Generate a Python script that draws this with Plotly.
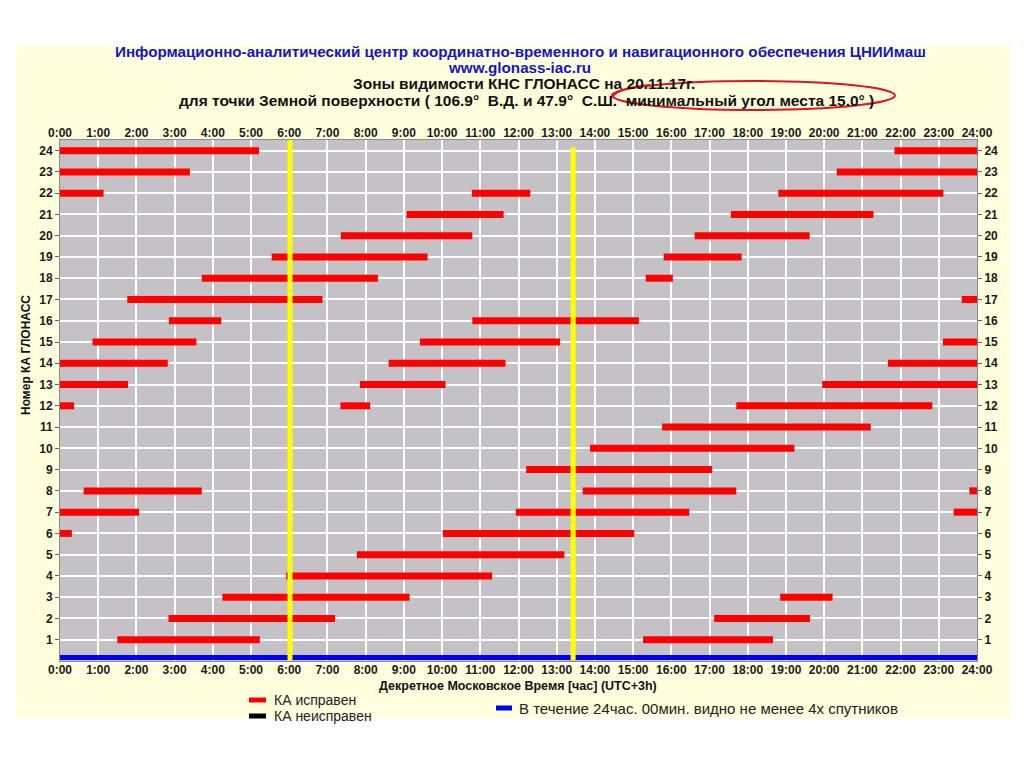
import plotly.graph_objects as go

# ---------------- data ----------------
HOURS = [0, 1, 2, 3, 4, 5, 6, 7, 8, 9, 10, 11, 12, 13, 14, 15, 16, 17, 18, 19, 20, 21, 22, 23, 24]
HOUR_LABELS = ["0:00", "1:00", "2:00", "3:00", "4:00", "5:00", "6:00", "7:00", "8:00", "9:00",
               "10:00", "11:00", "12:00", "13:00", "14:00", "15:00", "16:00", "17:00", "18:00",
               "19:00", "20:00", "21:00", "22:00", "23:00", "24:00"]
SAT_TICKS = [1, 2, 3, 4, 5, 6, 7, 8, 9, 10, 11, 12, 13, 14, 15, 16, 17, 18, 19, 20, 21, 22, 23, 24]
SAT_LABELS = ["1", "2", "3", "4", "5", "6", "7", "8", "9", "10", "11", "12", "13", "14", "15",
              "16", "17", "18", "19", "20", "21", "22", "23", "24"]

# visibility intervals (hours), parallel lists
SAT = [24, 24, 23, 23, 22, 22, 22, 21, 21, 20, 20, 19, 19, 18, 18, 17, 17, 16, 16,
       15, 15, 15, 14, 14, 14, 13, 13, 13, 12, 12, 12, 11, 10, 9, 8, 8, 8, 7, 7, 7,
       6, 6, 5, 4, 3, 3, 2, 2, 1, 1]
START = [0.00, 21.84, 0.00, 20.33, 0.00, 10.78, 18.80, 9.07, 17.56, 7.35, 16.61, 5.54, 15.80,
         3.71, 15.33, 1.76, 23.60, 2.85, 10.79, 0.85, 9.42, 23.11, 0.00, 8.60, 21.67,
         0.00, 7.85, 19.95, 0.00, 7.34, 17.70, 15.76, 13.87, 12.20, 0.62, 13.68, 23.80,
         0.00, 11.93, 23.39, 0.00, 10.02, 7.77, 5.92, 4.25, 18.85, 2.84, 17.12, 1.50, 15.26]
END = [5.21, 24.00, 3.40, 24.00, 1.14, 12.31, 23.12, 11.61, 21.29, 10.79, 19.62, 9.62, 17.84,
       8.32, 16.04, 6.87, 24.00, 4.22, 15.15, 3.57, 13.09, 24.00, 2.82, 11.66, 24.00,
       1.78, 10.09, 24.00, 0.37, 8.12, 22.83, 21.22, 19.22, 17.07, 3.71, 17.70, 24.00,
       2.07, 16.47, 24.00, 0.31, 15.03, 13.20, 11.31, 9.15, 20.22, 7.20, 19.63, 5.23, 18.66]

MARK_TIMES = [6.02, 13.43]      # yellow markers
MARK_TOPS = [24.5, 24.15]
COVERAGE_START, COVERAGE_END = 0, 24   # >=4 satellites visible (blue)

TITLE_1 = "Информационно-аналитический центр координатно-временного и навигационного обеспечения ЦНИИмаш"
TITLE_2 = "www.glonass-iac.ru"
TITLE_3 = "Зоны видимости КНС ГЛОНАСС на 20.11.17г."
TITLE_4 = ("для точки Земной поверхности ( 106.9°\u00a0\u00a0В.Д. и 47.9°\u00a0\u00a0С.Ш.\u00a0\u00a0"
           "минимальный угол места 15.0° )")
X_TITLE = "Декретное Московское Время [час] (UTC+3h)"
Y_TITLE = "Номер КА ГЛОНАСС"
LEG_OK = "КА исправен"
LEG_BAD = "КА неисправен"
LEG_COV = "В течение 24час. 00мин. видно не менее 4х спутников"

# ---------------- layout geometry (window pixels) ----------------
OFF = 8                      # page body margin
W, H = 1024 - OFF, 767 - OFF
PL, PR, PT, PB = 60, 977, 140, 661


def px(x):
    return (x - PL) / (PR - PL)


def py(y):
    return (PB - y) / (PB - PT)


FONT = "Liberation Sans, Arial, sans-serif"

fig = go.Figure()

# red visibility bars
xs, ys = [], []
for s, a, b in zip(SAT, START, END):
    xs += [a, b, None]
    ys += [s, s, None]
fig.add_trace(go.Scatter(x=xs, y=ys, mode="lines", line=dict(color="#FF0000", width=7),
                         hoverinfo="skip", showlegend=False))

# blue coverage line
fig.add_trace(go.Scatter(x=[COVERAGE_START, COVERAGE_END], y=[0.17, 0.17], mode="lines",
                         line=dict(color="#0000FF", width=5), hoverinfo="skip", showlegend=False))

# yellow markers
for t, top in zip(MARK_TIMES, MARK_TOPS):
    fig.add_trace(go.Scatter(x=[t, t], y=[0.05, top], mode="lines",
                             line=dict(color="#FFFF00", width=5), hoverinfo="skip", showlegend=False))

# dummy trace for secondary axes
fig.add_trace(go.Scatter(x=[None], y=[None], xaxis="x2", yaxis="y2", mode="lines",
                         hoverinfo="skip", showlegend=False))

tickfont = dict(family=FONT, size=12, color="#1a1a1a", weight="bold")
xcommon = dict(range=[0, 24], tickvals=HOURS, ticktext=HOUR_LABELS, tickfont=tickfont,
               showgrid=True, gridcolor="#FFFFFF", gridwidth=1.5, zeroline=False,
               showline=True, linecolor="#8a8a8a", linewidth=1, ticks="", fixedrange=True)
ycommon = dict(range=[0, 24.5], tickvals=SAT_TICKS, ticktext=SAT_LABELS,
               tickfont=tickfont, showgrid=True, gridcolor="#FFFFFF", gridwidth=1.5,
               zeroline=False, showline=True, linecolor="#8a8a8a", linewidth=1,
               ticks="outside", ticklen=4, tickcolor="#666666", fixedrange=True)

fig.update_layout(
    width=W, height=H,
    margin=dict(l=PL - OFF, r=W - (PR - OFF), t=PT - OFF, b=H - (PB - OFF), pad=0),
    paper_bgcolor="#FFFFFF",
    plot_bgcolor="#C4C2C6",
    showlegend=False,
    xaxis=dict(**xcommon, side="bottom", ticklabelstandoff=-2),
    xaxis2=dict(**xcommon, side="top", overlaying="x", ticklabelstandoff=-3),
    yaxis=dict(**ycommon, side="left"),
    yaxis2=dict(**ycommon, side="right", overlaying="y"),
)

shapes = [
    # light yellow panel
    dict(type="rect", xref="paper", yref="paper", x0=px(16), x1=px(1010), y0=py(718), y1=py(45),
         fillcolor="#FFFFDD", line=dict(width=0), layer="below"),
    # grey plot area
    dict(type="rect", xref="paper", yref="paper", x0=0, x1=1, y0=0, y1=1,
         fillcolor="#C4C2C6", line=dict(width=0), layer="below"),
    # red hand-drawn ellipse
    dict(type="circle", xref="paper", yref="paper", x0=px(612), x1=px(895), y0=py(110), y1=py(81),
         line=dict(color="#E0141E", width=2)),
    dict(type="path", xref="paper", yref="paper",
         path=f"M {px(612)},{py(97)} Q {px(618)},{py(88)} {px(650)},{py(85)}",
         line=dict(color="#E0141E", width=2)),
    # legend markers
    dict(type="line", xref="paper", yref="paper", x0=px(249), x1=px(266), y0=py(700), y1=py(700),
         line=dict(color="#FF0000", width=5)),
    dict(type="line", xref="paper", yref="paper", x0=px(249), x1=px(266), y0=py(716), y1=py(716),
         line=dict(color="#000000", width=5)),
    dict(type="line", xref="paper", yref="paper", x0=px(496), x1=px(512), y0=py(708), y1=py(708),
         line=dict(color="#0000FF", width=5)),
]
fig.update_layout(shapes=shapes)

ann = []


def add_text(text, x, y, size, color, bold=True, xanchor="center", angle=0):
    ann.append(dict(text=text, x=px(x), y=py(y), xref="paper", yref="paper", showarrow=False,
                    xanchor=xanchor, yanchor="middle", textangle=angle,
                    font=dict(family=FONT, size=size, color=color,
                              weight="bold" if bold else "normal")))


add_text(TITLE_1, 520, 52, 15.2, "#1414C8")
add_text(TITLE_2, 519, 68, 15.2, "#1414C8")
add_text(TITLE_3, 524, 84, 15.5, "#111111")
add_text(TITLE_4, 526, 100, 15.5, "#111111")
add_text(X_TITLE, 518, 686, 12.5, "#111111")
add_text(Y_TITLE, 26, 355, 12, "#111111", angle=-90)
add_text(LEG_OK, 272, 700, 14, "#222222", bold=False, xanchor="left")
add_text(LEG_BAD, 272, 716, 14, "#222222", bold=False, xanchor="left")
add_text(LEG_COV, 517, 708, 15, "#222222", bold=False, xanchor="left")
fig.update_layout(annotations=ann)

fig.write_html("out.html")
